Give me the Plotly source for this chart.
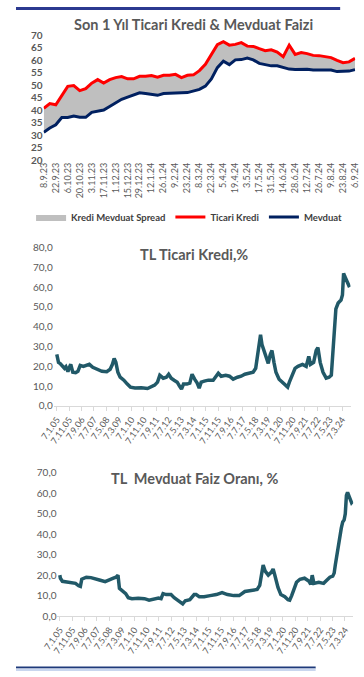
import plotly.graph_objects as go
import pandas as pd

# ---------------- data: top chart (weekly, last 1 year) ----------------
week_dates = pd.date_range("2023-09-08", periods=53, freq="7D")
top_tick_labels = ["8.9.23", "22.9.23", "6.10.23", "20.10.23", "3.11.23", "17.11.23", "1.12.23",
                   "15.12.23", "29.12.23", "12.1.24", "26.1.24", "9.2.24", "23.2.24", "8.3.24",
                   "22.3.24", "5.4.24", "19.4.24", "3.5.24", "17.5.24", "31.5.24", "14.6.24",
                   "28.6.24", "12.7.24", "26.7.24", "9.8.24", "23.8.24", "6.9.24"]
ticari_kredi_1y = [40.7, 42.6, 42.1, 46.0, 49.5, 49.8, 47.8, 48.6, 50.8, 52.2, 50.8, 52.2, 53.0,
                   53.4, 52.5, 52.5, 53.5, 53.5, 53.8, 53.2, 53.9, 53.9, 54.3, 53.0, 53.9, 54.1,
                   55.8, 58.3, 62.5, 66.2, 67.4, 66.0, 66.3, 67.0, 65.6, 65.5, 64.6, 63.8, 64.1,
                   63.2, 61.4, 66.0, 62.3, 63.0, 62.6, 61.9, 61.8, 61.5, 61.0, 59.9, 59.0, 59.3, 60.7]
mevduat_1y = [31.1, 32.8, 34.1, 37.0, 37.0, 37.6, 37.1, 37.1, 39.1, 39.7, 40.0, 41.4, 43.0,
              44.3, 45.2, 46.2, 46.9, 46.6, 46.2, 45.9, 46.6, 46.6, 46.6, 46.9, 47.0, 47.5,
              48.3, 49.6, 52.5, 57.0, 59.6, 58.2, 60.1, 60.2, 60.8, 60.1, 58.7, 58.2, 57.7,
              57.7, 57.0, 56.4, 56.2, 56.4, 56.3, 56.0, 56.0, 56.0, 56.0, 55.4, 55.6, 55.6, 56.2]

# ---------------- data: long history charts ----------------
long_tick_labels = ["7.1.05", "7.11.05", "7.9.06", "7.7.07", "7.5.08", "7.3.09", "7.1.10", "7.11.10",
                    "7.9.11", "7.7.12", "7.5.13", "7.3.14", "7.1.15", "7.11.15", "7.9.16", "7.7.17",
                    "7.5.18", "7.3.19", "7.1.20", "7.11.20", "7.9.21", "7.7.22", "7.5.23", "7.3.24"]

ticari_dates = ["2005-01-07", "2005-01-28", "2005-02-18", "2005-03-25", "2005-05-06", "2005-06-10",
                "2005-07-15", "2005-08-19", "2005-10-07", "2005-11-11", "2005-12-16", "2006-02-03",
                "2006-04-14", "2006-06-09", "2006-08-04", "2006-10-20", "2007-01-05", "2007-03-16",
                "2007-06-08", "2007-10-05", "2008-01-18", "2008-05-16", "2008-08-08", "2008-10-03",
                "2008-11-14", "2008-12-26", "2009-02-13", "2009-04-10", "2009-07-10", "2009-10-02",
                "2009-12-18", "2010-04-09", "2010-09-10", "2011-02-11", "2011-05-13", "2011-08-05",
                "2011-10-14", "2011-12-09", "2012-03-02", "2012-05-18", "2012-07-13", "2012-09-14",
                "2012-11-23", "2013-02-08", "2013-04-05", "2013-05-24", "2013-07-12", "2013-10-04",
                "2013-12-13", "2014-02-07", "2014-04-11", "2014-06-13", "2014-08-01", "2014-09-19",
                "2014-12-05", "2015-03-13", "2015-07-10", "2015-10-02", "2015-11-13", "2016-01-22",
                "2016-05-13", "2016-08-12", "2016-11-11", "2017-02-24", "2017-05-26", "2017-08-25",
                "2017-12-15", "2018-03-16", "2018-05-18", "2018-06-22", "2018-08-10", "2018-09-14",
                "2018-10-19", "2018-12-14", "2019-02-08", "2019-03-22", "2019-05-10", "2019-06-21",
                "2019-08-09", "2019-09-27", "2019-12-13", "2020-02-21", "2020-05-08", "2020-07-10",
                "2020-08-21", "2020-10-16", "2021-01-08", "2021-03-19", "2021-07-09", "2021-10-08",
                "2021-12-10", "2022-01-21", "2022-04-08", "2022-06-10", "2022-07-22", "2022-09-16",
                "2022-11-25", "2023-02-10", "2023-04-21", "2023-06-16", "2023-07-28", "2023-08-25",
                "2023-09-08", "2023-10-06", "2023-12-01", "2024-02-09", "2024-03-15", "2024-04-12",
                "2024-05-10", "2024-06-28", "2024-08-02", "2024-09-06"]
ticari_vals = [26.0, 24.5, 22.0, 21.5, 20.5, 19.8, 19.0, 19.8, 17.3, 19.5, 21.0, 17.0,
               16.8, 17.5, 20.5, 20.0, 20.5, 21.0, 19.5, 18.5, 17.5, 17.3, 18.5, 21.0,
               24.0, 22.0, 17.0, 14.5, 13.0, 11.0, 9.5, 9.0, 9.2, 8.8, 9.5, 10.5,
               12.0, 15.5, 14.0, 14.5, 16.0, 14.0, 13.0, 12.0, 10.0, 8.5, 11.0, 11.0,
               11.5, 16.0, 13.5, 11.5, 9.0, 12.0, 12.5, 13.0, 13.0, 15.0, 16.5, 15.0,
               15.5, 15.0, 13.5, 14.5, 15.0, 16.0, 16.5, 17.0, 19.0, 24.0, 30.0, 36.0,
               31.0, 27.0, 23.0, 21.5, 26.0, 28.0, 22.0, 17.0, 13.5, 12.0, 10.5, 9.5,
               12.0, 15.0, 19.0, 20.0, 21.0, 20.0, 25.0, 21.0, 22.0, 28.0, 29.5, 22.0,
               17.0, 14.0, 14.5, 15.5, 28.0, 40.0, 42.0, 49.0, 52.0, 53.5, 56.0, 67.0,
               65.5, 63.0, 61.0, 60.0]

mevduat_dates = ["2005-01-07", "2005-01-21", "2005-03-11", "2005-06-10", "2005-09-30", "2006-01-27",
                 "2006-04-14", "2006-05-26", "2006-06-30", "2006-10-20", "2007-02-09", "2007-06-01",
                 "2007-09-28", "2008-01-25", "2008-05-16", "2008-08-15", "2008-10-17", "2008-12-05",
                 "2009-01-09", "2009-03-27", "2009-06-12", "2009-08-14", "2009-11-13", "2010-04-16",
                 "2010-09-17", "2011-01-07", "2011-04-29", "2011-08-26", "2011-10-28", "2011-12-16",
                 "2012-03-02", "2012-06-29", "2012-09-14", "2013-01-11", "2013-04-12", "2013-06-14",
                 "2013-10-04", "2014-01-17", "2014-03-07", "2014-05-23", "2014-09-19", "2015-02-13",
                 "2015-07-17", "2015-12-04", "2016-04-15", "2016-09-16", "2017-01-27", "2017-06-16",
                 "2017-11-10", "2018-04-13", "2018-06-15", "2018-07-27", "2018-09-07", "2018-10-26",
                 "2019-01-11", "2019-03-29", "2019-05-10", "2019-06-21", "2019-09-06", "2019-11-15",
                 "2020-02-21", "2020-05-08", "2020-06-19", "2020-08-07", "2020-10-09", "2020-12-04",
                 "2021-02-26", "2021-06-18", "2021-10-08", "2021-11-19", "2021-12-24", "2022-02-04",
                 "2022-06-03", "2022-09-30", "2022-12-16", "2023-03-03", "2023-05-12", "2023-06-16",
                 "2023-07-14", "2023-08-11", "2023-09-08", "2023-10-06", "2023-11-10", "2023-12-08",
                 "2024-01-12", "2024-02-16", "2024-03-15", "2024-04-12", "2024-05-10", "2024-06-14",
                 "2024-07-19", "2024-08-16", "2024-09-06"]
mevduat_vals = [20.0, 18.5, 17.0, 16.8, 16.5, 16.0, 14.8, 14.5, 18.0, 19.0, 18.8, 18.0,
                17.5, 16.8, 17.5, 18.5, 19.0, 20.0, 13.5, 12.0, 11.0, 9.0, 8.5, 8.7,
                8.5, 7.8, 8.3, 8.8, 8.5, 11.0, 10.5, 10.5, 9.0, 7.5, 6.0, 7.5,
                8.0, 10.5, 10.5, 9.5, 9.5, 10.0, 10.5, 11.5, 10.5, 10.0, 10.0, 12.0,
                12.5, 13.0, 15.0, 19.0, 25.0, 22.0, 20.0, 21.5, 23.0, 20.0, 14.0, 10.5,
                9.5, 8.0, 7.8, 10.0, 13.0, 16.5, 18.0, 18.5, 17.0, 15.5, 20.0, 16.0,
                16.5, 16.0, 17.5, 19.0, 19.5, 21.0, 25.0, 29.0, 32.0, 37.0, 40.0, 43.0,
                46.0, 47.0, 50.0, 59.0, 60.5, 58.5, 57.0, 55.5, 56.0]

# ---------------- styling ----------------
W, H = 364, 677
FONT = "Lato"
GRAY = "#595959"
RED = "#FF0000"
NAVY = "#002060"
TEAL = "#215968"
SPREAD = "#BFBFBF"


def label_to_date(lbl):
    d, m, y = lbl.split(".")
    return pd.Timestamp(year=2000 + int(y), month=int(m), day=int(d))


def py(px):
    return 1 - px / H


def px_x(px):
    return px / W


top_tickvals = [label_to_date(s) for s in top_tick_labels]
long_tickvals = [label_to_date(s) for s in long_tick_labels]

fig = go.Figure()

# top chart
fig.add_trace(go.Scatter(x=week_dates, y=mevduat_1y, mode="lines", line=dict(width=0, color=NAVY),
                         showlegend=False, hoverinfo="skip", xaxis="x", yaxis="y"))
fig.add_trace(go.Scatter(x=week_dates, y=ticari_kredi_1y, mode="lines", fill="tonexty",
                         fillcolor=SPREAD, line=dict(width=0, color=SPREAD),
                         name="Kredi Mevduat Spread", xaxis="x", yaxis="y"))
fig.add_trace(go.Scatter(x=week_dates, y=ticari_kredi_1y, mode="lines", line=dict(width=3, color=RED),
                         name="Ticari Kredi", xaxis="x", yaxis="y"))
fig.add_trace(go.Scatter(x=week_dates, y=mevduat_1y, mode="lines", line=dict(width=3, color=NAVY),
                         name="Mevduat", xaxis="x", yaxis="y"))

# middle chart
fig.add_trace(go.Scatter(x=ticari_dates, y=ticari_vals, mode="lines",
                         line=dict(width=3.5, color=TEAL), showlegend=False, xaxis="x2", yaxis="y2"))
# bottom chart
fig.add_trace(go.Scatter(x=mevduat_dates, y=mevduat_vals, mode="lines",
                         line=dict(width=3.5, color=TEAL), showlegend=False, xaxis="x3", yaxis="y3"))

tickfont_small = dict(family=FONT, size=9, color=GRAY)
title_font = dict(family=FONT, size=14.5, color=GRAY, weight="bold")

fig.update_layout(
    width=W, height=H, autosize=False,
    margin=dict(l=0, r=0, t=0, b=0),
    paper_bgcolor="white", plot_bgcolor="white",
    separators=",.",
    font=dict(family=FONT, color=GRAY),
    xaxis=dict(domain=[px_x(29.3), px_x(360)], type="date",
               range=["2023-09-07 18:00", "2024-09-06 06:00"],
               tickvals=top_tickvals, ticktext=top_tick_labels, tickangle=-90,
               tickfont=tickfont_small, showgrid=False, zeroline=False, showline=False,
               ticks="", anchor="y", ticklabeloverflow="allow"),
    yaxis=dict(domain=[py(156), py(28.7)], range=[20, 70], dtick=5, tick0=20,
               tickfont=dict(family=FONT, size=10, color=GRAY, weight="bold"),
               showgrid=False, zeroline=False, showline=False, anchor="x"),
    xaxis2=dict(domain=[px_x(40), px_x(355)], type="date",
                range=["2004-10-23", "2024-09-29"],
                tickvals=long_tickvals, ticktext=long_tick_labels, tickangle=-55,
                tickfont=tickfont_small, showgrid=False, zeroline=False,
                showline=True, linecolor="#D9D9D9", linewidth=1,
                ticks="outside", ticklen=4, tickcolor="#D9D9D9", anchor="y2",
                ticklabeloverflow="allow"),
    yaxis2=dict(domain=[py(406.7), py(245.3)], range=[0, 80], dtick=10, tickformat=".1f",
                tickfont=dict(family=FONT, size=10, color=GRAY),
                showgrid=False, zeroline=False, showline=False, anchor="x2"),
    xaxis3=dict(domain=[px_x(44), px_x(358)], type="date",
                range=["2004-11-10", "2024-09-29"],
                tickvals=long_tickvals, ticktext=long_tick_labels, tickangle=-55,
                tickfont=tickfont_small, showgrid=False, zeroline=False,
                showline=True, linecolor="#D9D9D9", linewidth=1,
                ticks="outside", ticklen=4, tickcolor="#D9D9D9", anchor="y3",
                ticklabeloverflow="allow"),
    yaxis3=dict(domain=[py(621), py(475)], range=[0, 70], dtick=10, tickformat=".1f",
                tickfont=dict(family=FONT, size=10, color=GRAY),
                showgrid=False, zeroline=False, showline=False, anchor="x3"),
    legend=dict(orientation="h", x=px_x(16), y=py(214), xanchor="left", yanchor="middle",
                font=dict(family=FONT, size=9.5, color="#404040", weight="bold"),
                bgcolor="rgba(0,0,0,0)", itemwidth=30, tracegroupgap=0, traceorder="normal"),
    annotations=[
        dict(text="Son 1 Yıl Ticari Kredi & Mevduat Faizi", x=px_x(188), y=py(18),
             xref="paper", yref="paper", showarrow=False, xanchor="center", yanchor="middle",
             font=title_font),
        dict(text="TL Ticari Kredi,%", x=px_x(189), y=py(252), xref="paper", yref="paper",
             showarrow=False, xanchor="center", yanchor="middle", font=title_font),
        dict(text="TL  Mevduat Faiz Oranı, %", x=px_x(189), y=py(481), xref="paper", yref="paper",
             showarrow=False, xanchor="center", yanchor="middle", font=title_font),
    ],
    shapes=[
        dict(type="rect", xref="paper", yref="paper", x0=0, x1=px_x(344), y0=py(3), y1=1,
             fillcolor="#2B3990", line=dict(width=0)),
        dict(type="rect", xref="paper", yref="paper", x0=0, x1=px_x(318), y0=py(674.5), y1=py(672.3),
             fillcolor="#1F3A7A", line=dict(width=0)),
        dict(type="rect", xref="paper", yref="paper", x0=0, x1=px_x(318), y0=0, y1=py(674.5),
             fillcolor="#C9D6EE", line=dict(width=0)),
    ],
)

fig.write_html("out.html", config={"displayModeBar": False},
               post_script="document.body.style.margin='0';")
